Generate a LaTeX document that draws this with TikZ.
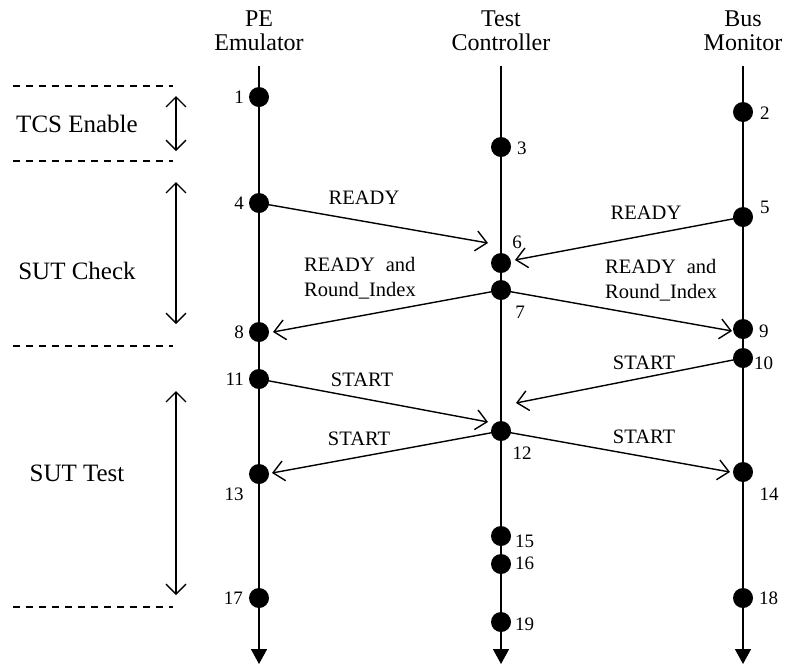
\documentclass[tikz,border=0pt]{standalone}
\usepackage{fontspec}
\setmainfont{Liberation Serif}
\usetikzlibrary{arrows.meta}
\begin{document}
\begin{tikzpicture}[x=1pt,y=-1pt,
  dot/.style={circle,fill=black,inner sep=0pt,minimum size=20pt},
  num/.style={font=\fontsize{19}{19}\selectfont,inner sep=0pt},
  msglbl/.style={font=\fontsize{20.5}{25}\selectfont,inner sep=0pt,align=left},
  head/.style={font=\fontsize{24}{24}\selectfont,inner sep=0pt,align=center},
  sect/.style={font=\fontsize{25}{25}\selectfont,inner sep=0pt},
  life/.style={line width=1.6pt,-{Triangle[length=15pt,width=16pt]}},
  msg/.style={line width=1.4pt,-{Straight Barb[length=11pt,width=20pt,line width=1.4pt]}},
  span/.style={line width=1.3pt,{Straight Barb[length=10pt,width=20pt,line width=1.3pt]}-{Straight Barb[length=10pt,width=20pt,line width=1.3pt]}},
  sep/.style={line width=1.2pt,dash pattern=on 7pt off 6pt}
]
\useasboundingbox (0,0) rectangle (791,665);

% headers
\node[head] (hPE) at (259,31) {PE\\Emulator};
\node[head] (hTC) at (501,31) {Test\\Controller};
\node[head] (hBM) at (743,31) {Bus\\Monitor};

% lifeline endpoints
\coordinate (tA) at (259,66); \coordinate (bA) at (259,664);
\coordinate (tB) at (501,66); \coordinate (bB) at (501,664);
\coordinate (tC) at (743,66); \coordinate (bC) at (743,664);
\draw[life] (tA) -- (bA);
\draw[life] (tB) -- (bB);
\draw[life] (tC) -- (bC);

% section separators
\coordinate (s1l) at (13,86);  \coordinate (s1r) at (173,86);
\coordinate (s2l) at (13,161); \coordinate (s2r) at (173,161);
\coordinate (s3l) at (13,346); \coordinate (s3r) at (173,346);
\coordinate (s4l) at (13,607); \coordinate (s4r) at (173,607);
\draw[sep] (s1l) -- (s1r);
\draw[sep] (s2l) -- (s2r);
\draw[sep] (s3l) -- (s3r);
\draw[sep] (s4l) -- (s4r);

% section spans
\coordinate (a1t) at (176,96);  \coordinate (a1b) at (176,151);
\coordinate (a2t) at (176,182); \coordinate (a2b) at (176,324);
\coordinate (a3t) at (176,391); \coordinate (a3b) at (176,595);
\draw[span] (a1t) -- (a1b);
\draw[span] (a2t) -- (a2b);
\draw[span] (a3t) -- (a3b);
\node[sect] (tcs) at (77,124) {TCS Enable};
\node[sect] (chk) at (77,271) {SUT Check};
\node[sect] (tst) at (77,473) {SUT Test};

% events
\node[dot] (d1) at (259,97) {};
\node[dot] (d2) at (743,112) {};
\node[dot] (d3) at (501,147) {};
\node[dot] (d4) at (259,203) {};
\node[dot] (d5) at (743,217) {};
\node[dot] (d6) at (501,263) {};
\node[dot] (d7) at (501,290) {};
\node[dot] (d8) at (259,332) {};
\node[dot] (d9) at (743,329) {};
\node[dot] (d10) at (743,358) {};
\node[dot] (d11) at (259,379) {};
\node[dot] (d12) at (501,431) {};
\node[dot] (d13) at (259,474) {};
\node[dot] (d14) at (743,472) {};
\node[dot] (d15) at (501,536) {};
\node[dot] (d16) at (501,564) {};
\node[dot] (d17) at (259,598) {};
\node[dot] (d18) at (743,598) {};
\node[dot] (d19) at (501,622) {};

% event numbers
\node[num,anchor=east] (n1) at (244,97) {1};
\node[num,anchor=west] (n2) at (760,113) {2};
\node[num,anchor=west] (n3) at (517,148) {3};
\node[num,anchor=east] (n4) at (244,203) {4};
\node[num,anchor=west] (n5) at (760,207) {5};
\node[num] (n6) at (517,242) {6};
\node[num] (n7) at (520,312) {7};
\node[num,anchor=east] (n8) at (244,332) {8};
\node[num,anchor=west] (n9) at (759,331) {9};
\node[num,anchor=west] (n10) at (754,363) {10};
\node[num,anchor=east] (n11) at (244,379) {11};
\node[num] (n12) at (522,453) {12};
\node[num] (n13) at (234,494) {13};
\node[num] (n14) at (769,494) {14};
\node[num,anchor=west] (n15) at (515,541) {15};
\node[num,anchor=west] (n16) at (515,563) {16};
\node[num,anchor=east] (n17) at (243,598) {17};
\node[num,anchor=west] (n18) at (759,598) {18};
\node[num,anchor=west] (n19) at (515,624) {19};

% arrow tips
\coordinate (e46) at (488,243);
\coordinate (e56) at (515,260);
\coordinate (e78) at (273,332);
\coordinate (e79) at (732,331);
\coordinate (e1112) at (488,422);
\coordinate (e1012) at (516,403);
\coordinate (e1213) at (272,473);
\coordinate (e1214) at (730,472);

\draw[msg] (d4.center) -- (e46);
\draw[msg] (d5.center) -- (e56);
\draw[msg] (d7.center) -- (e78);
\draw[msg] (d7.center) -- (e79);
\draw[msg] (d11.center) -- (e1112);
\draw[msg] (d10.center) -- (e1012);
\draw[msg] (d12.center) -- (e1213);
\draw[msg] (d12.center) -- (e1214);

% message labels
\node[msglbl] (m1) at (364,198) {READY};
\node[msglbl] (m2) at (646,213) {READY};
\node[msglbl] (m3) at (360,278) {READY\hspace{11pt}and\\Round\_Index};
\node[msglbl] (m4) at (661,280) {READY\hspace{11pt}and\\Round\_Index};
\node[msglbl] (m5) at (362,380) {START};
\node[msglbl] (m6) at (644,363) {START};
\node[msglbl] (m7) at (359,439) {START};
\node[msglbl] (m8) at (644,437) {START};
\end{tikzpicture}
\end{document}
